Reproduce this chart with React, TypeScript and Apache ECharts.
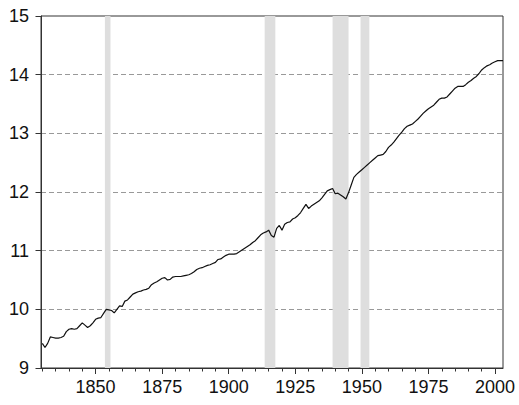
import React, { useEffect, useRef } from 'react';
import * as echarts from 'echarts';
import type { EChartsOption } from 'echarts';

// 年份与数值
const years: number[] = [];
for (let y = 1830; y <= 2003; y++) years.push(y);

const values: number[] = [
  9.42, 9.35, 9.42, 9.53, 9.52, 9.51, 9.51, 9.52, 9.54, 9.62,
  9.66, 9.67, 9.66, 9.67, 9.72, 9.77, 9.73, 9.69, 9.72, 9.77,
  9.83, 9.85, 9.86, 9.93, 10.0, 9.99, 9.98, 9.94, 10.0, 10.06,
  10.05, 10.14, 10.16, 10.21, 10.26, 10.28, 10.3, 10.31, 10.33, 10.34,
  10.36, 10.42, 10.45, 10.47, 10.5, 10.53, 10.54, 10.5, 10.51, 10.55,
  10.56, 10.56, 10.56, 10.57, 10.58, 10.59, 10.61, 10.64, 10.68, 10.7,
  10.71, 10.73, 10.75, 10.76, 10.78, 10.8, 10.85, 10.86, 10.89, 10.92,
  10.94, 10.94, 10.94, 10.95, 10.98, 11.01, 11.04, 11.07, 11.1, 11.14,
  11.17, 11.22, 11.27, 11.3, 11.32, 11.35, 11.26, 11.23, 11.38, 11.43,
  11.35, 11.45, 11.48, 11.49, 11.54, 11.56, 11.6, 11.65, 11.72, 11.79,
  11.72, 11.76, 11.79, 11.82, 11.85, 11.9, 11.96, 12.02, 12.04, 12.06,
  11.97, 11.98, 11.95, 11.92, 11.88, 11.99, 12.12, 12.25, 12.3, 12.34,
  12.38, 12.42, 12.46, 12.5, 12.54, 12.58, 12.62, 12.63, 12.64, 12.69,
  12.76, 12.8, 12.85, 12.91, 12.97, 13.02, 13.08, 13.12, 13.14, 13.16,
  13.2, 13.24, 13.29, 13.34, 13.38, 13.42, 13.45, 13.48, 13.53, 13.58,
  13.6, 13.6, 13.62, 13.67, 13.72, 13.77, 13.8, 13.8, 13.8, 13.83,
  13.87, 13.9, 13.94, 13.97, 14.02, 14.08, 14.12, 14.15, 14.17, 14.2,
  14.22, 14.24, 14.24, 14.24,
];

// 阴影区间（战争时期）
const bands: Array<[number, number]> = [
  [1853.5, 1855.6],
  [1913.5, 1917.5],
  [1939, 1945],
  [1949.5, 1952.8],
];

const minorTicks = [
  1830, 1835, 1840, 1845, 1850, 1855, 1860, 1865, 1870, 1875, 1880, 1885,
  1890, 1895, 1900, 1905, 1910, 1915, 1920, 1925, 1930, 1935, 1940, 1945,
  1950, 1955, 1960, 1965, 1970, 1975, 1980, 1985, 1990, 1995, 2000,
];
const majorTicks = [1850, 1875, 1900, 1925, 1950, 1975, 2000];

const FONT = '"Liberation Sans", Arial, sans-serif';

const App: React.FC = () => {
  const chartRef = useRef<HTMLDivElement>(null);

  useEffect(() => {
    if (!chartRef.current) return;
    const chart = echarts.init(chartRef.current, null, { renderer: 'svg' });

    const option: EChartsOption = {
      animation: false,
      backgroundColor: '#fff',
      grid: {
        left: 41,
        right: 16,
        top: 16,
        bottom: 37,
        show: true,
        borderColor: '#333',
        borderWidth: 1,
      },
      xAxis: [
        {
          type: 'value',
          min: 1829.5,
          max: 2003,
          axisLine: { show: true, lineStyle: { color: '#333', width: 1 } },
          axisTick: {
            show: true,
            customValues: minorTicks,
            length: 3.5,
            lineStyle: { color: '#333' },
          },
          axisLabel: { show: false },
          splitLine: { show: false },
        },
        {
          type: 'value',
          min: 1829.5,
          max: 2003,
          position: 'bottom',
          axisLine: { show: false },
          axisTick: {
            show: true,
            customValues: majorTicks,
            length: 6,
            lineStyle: { color: '#333' },
          },
          axisLabel: {
            customValues: majorTicks,
            formatter: (v: number) => String(v),
            fontSize: 18,
            fontFamily: FONT,
            color: '#111',
            margin: 10,
          },
          splitLine: { show: false },
        },
      ],
      yAxis: {
        type: 'value',
        min: 9,
        max: 15,
        interval: 1,
        axisLine: { show: true, lineStyle: { color: '#333', width: 1 } },
        axisTick: { show: true, length: 5.5, lineStyle: { color: '#333' } },
        axisLabel: {
          fontSize: 18,
          fontFamily: FONT,
          color: '#111',
          margin: 12,
        },
        splitLine: {
          show: true,
          lineStyle: { color: '#999', type: [5, 3], width: 1 },
        },
      },
      series: [
        {
          // 阴影条带
          type: 'custom',
          xAxisIndex: 0,
          silent: true,
          z: 1,
          data: bands,
          renderItem: (params: any, api: any) => {
            const start = api.coord([api.value(0), 15]);
            const end = api.coord([api.value(1), 9]);
            return {
              type: 'rect',
              shape: {
                x: start[0],
                y: start[1],
                width: end[0] - start[0],
                height: end[1] - start[1],
              },
              style: { fill: '#dedede' },
            };
          },
        },
        {
          type: 'line',
          xAxisIndex: 0,
          z: 3,
          data: years.map((y, i) => [y, values[i]]),
          showSymbol: false,
          lineStyle: { color: '#111', width: 1.2 },
        },
      ],
    };

    chart.setOption(option);

    return () => {
      chart.dispose();
    };
  }, []);

  return (
    <div
      ref={chartRef}
      style={{ position: 'fixed', left: 0, top: 0, width: 519, height: 405 }}
    />
  );
};

export default App;
